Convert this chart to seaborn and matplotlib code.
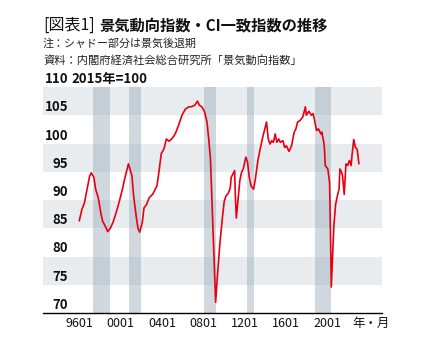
import matplotlib
matplotlib.use("Agg")
import matplotlib.pyplot as plt
from matplotlib.transforms import blended_transform_factory, ScaledTranslation
import seaborn as sns
import pandas as pd

# CI coincident index (2015 = 100), monthly readings
months = [
    "1996-01", "1996-04", "1996-07", "1996-10", "1997-01", "1997-03", "1997-06", "1997-08",
    "1997-11", "1998-02", "1998-04", "1998-07", "1998-10", "1999-01", "1999-04", "1999-07",
    "1999-11", "2000-03", "2000-06", "2000-08", "2000-10", "2001-02", "2001-04", "2001-07",
    "2001-09", "2001-11", "2002-02", "2002-04", "2002-07", "2002-10", "2003-02", "2003-05",
    "2003-07", "2003-09", "2003-12", "2004-03", "2004-06", "2004-09", "2004-12", "2005-03",
    "2005-05", "2005-08", "2005-12", "2006-04", "2006-08", "2006-11", "2007-03", "2007-06",
    "2007-08", "2007-11", "2008-02", "2008-05", "2008-07", "2008-09", "2008-11", "2009-01",
    "2009-03", "2009-05", "2009-08", "2009-11", "2010-01", "2010-03", "2010-06", "2010-08",
    "2010-09", "2010-11", "2011-01", "2011-02", "2011-03", "2011-05", "2011-07", "2011-09",
    "2011-11", "2012-02", "2012-04", "2012-06", "2012-08", "2012-11", "2013-01", "2013-04",
    "2013-07", "2013-10", "2013-12", "2014-02", "2014-04", "2014-06", "2014-08", "2014-10",
    "2014-12", "2015-02", "2015-04", "2015-06", "2015-09", "2015-11", "2016-01", "2016-04",
    "2016-07", "2016-10", "2016-12", "2017-02", "2017-05", "2017-08", "2017-11", "2017-12",
    "2018-03", "2018-06", "2018-08", "2018-10", "2018-12", "2019-02", "2019-05", "2019-06",
    "2019-08", "2019-09", "2019-10", "2020-01", "2020-03", "2020-04", "2020-05", "2020-07",
    "2020-08", "2020-10", "2020-12", "2021-02", "2021-03", "2021-05", "2021-06", "2021-08",
    "2021-10", "2021-12", "2022-02", "2022-04", "2022-05", "2022-07", "2022-09", "2022-11",
    "2023-01",
]
ci_values = [
    86.3, 88.3, 89.5, 91.9, 94.2, 94.8, 94.0, 91.9,
    90.4, 87.7, 86.3, 85.4, 84.4, 85.0, 86.0, 87.4,
    89.5, 91.9, 94.0, 95.2, 96.4, 94.3, 90.7, 87.1,
    85.0, 84.3, 86.0, 88.6, 89.2, 90.4, 91.0, 91.9,
    92.5, 94.6, 98.2, 99.0, 100.8, 100.4, 100.8, 101.4,
    102.0, 103.2, 105.0, 106.1, 106.5, 106.5, 106.8, 107.5,
    106.8, 106.5, 105.7, 103.8, 100.8, 97.3, 88.9, 80.0,
    71.9, 76.4, 82.4, 87.1, 89.8, 90.7, 91.3, 92.2,
    94.0, 94.6, 95.2, 90.1, 86.8, 90.1, 93.4, 94.9,
    95.5, 97.6, 96.7, 94.0, 92.5, 91.9, 93.7, 97.0,
    99.3, 101.4, 102.6, 103.8, 100.8, 99.9, 100.5, 100.2,
    101.7, 100.2, 100.8, 100.2, 100.5, 99.3, 99.6, 98.6,
    99.6, 102.0, 102.6, 103.8, 104.1, 104.7, 106.5, 105.0,
    105.7, 105.0, 105.3, 103.8, 102.3, 102.6, 101.7, 102.0,
    100.5, 99.3, 96.1, 95.5, 93.1, 84.8, 74.6, 81.8,
    85.4, 89.2, 90.7, 91.9, 95.5, 94.9, 94.3, 91.0,
    96.4, 96.1, 97.0, 96.1, 97.9, 100.7, 99.3, 99.0,
    96.4,
]

# Recession periods (peak month, trough month)
recession_start = ["1997-05", "2000-11", "2008-02", "2012-03", "2018-10"]
recession_end = ["1999-01", "2002-01", "2009-03", "2012-11", "2020-05"]

x_tick_years = [1996, 2000, 2004, 2008, 2012, 2016, 2020]
x_tick_labels = ["9601", "0001", "0401", "0801", "1201", "1601", "2001"]
y_ticks = [70, 75, 80, 85, 90, 95, 100, 105, 110]


def to_year(ym):
    y, m = ym.split("-")
    return int(y) + (int(m) - 1) / 12


df = pd.DataFrame({"t": [to_year(m) for m in months], "ci": ci_values})

sns.set_theme(style="white")
plt.rcParams["font.family"] = ["Noto Sans CJK JP", "DejaVu Sans"]

W, H = 421, 349
AX_L, AX_R, AX_T, AX_B = 43, 382, 87, 313
fig = plt.figure(figsize=(W / 100, H / 100), dpi=100)
ax = fig.add_axes([AX_L / W, (H - AX_B) / H, (AX_R - AX_L) / W, (AX_B - AX_T) / H])

# alternating horizontal bands
for lo in [75, 85, 95, 105]:
    ax.axhspan(lo, lo + 5, color="#e9ecef", lw=0, zorder=0)

# recession shading
for s, e in zip(recession_start, recession_end):
    ax.axvspan(to_year(s), to_year(e), color="#8ea1b1", alpha=0.40, lw=0, zorder=1)

sns.lineplot(data=df, x="t", y="ci", ax=ax, color="#e60012", lw=1.2, zorder=3)

ax.set_xlim(1992.5, 2025.23)
ax.set_ylim(70, 110)
ax.set_xlabel("")
ax.set_ylabel("")
for sp in ["left", "right", "top"]:
    ax.spines[sp].set_visible(False)
ax.spines["bottom"].set_color("black")
ax.spines["bottom"].set_linewidth(1.0)
ax.spines["bottom"].set_zorder(4)

ax.set_xticks(x_tick_years)
ax.set_xticklabels(x_tick_labels, fontsize=9)
ax.tick_params(axis="x", length=0, pad=3, colors="#111111")
ax.set_yticks([])

# y labels sit just above their band edges, inside the plot
ax_w = AX_R - AX_L
trans = blended_transform_factory(ax.transAxes, ax.transData) + \
    ScaledTranslation(0, 8 / 100, fig.dpi_scale_trans)
for v in y_ticks:
    ax.text((68 - AX_L) / ax_w, v, str(v), transform=trans, ha="right", va="center",
            fontsize=9.5, fontweight="bold", color="#111111", clip_on=False, zorder=5)
ax.text((71.5 - AX_L) / ax_w, 110, "2015年=100", transform=trans, ha="left", va="center",
        fontsize=9.5, fontweight="bold", color="#111111", clip_on=False, zorder=5)


def ftext(x, y, s, **kw):
    fig.text(x / W, 1 - y / H, s, va="center", **kw)


ftext(43, 25, "[図表1]", fontsize=11.5, color="#111111")
ftext(100, 25, "景気動向指数・CI一致指数の推移", fontsize=11, fontweight="bold", color="#111111")
ftext(43, 43, "注：シャドー部分は景気後退期", fontsize=7.9, color="#222222")
ftext(43, 60, "資料：内閣府経済社会総合研究所「景気動向指数」", fontsize=8.1, color="#222222")
ftext(352, 323, "年・月", fontsize=9, color="#111111")

fig.savefig("out.png", dpi=100)
